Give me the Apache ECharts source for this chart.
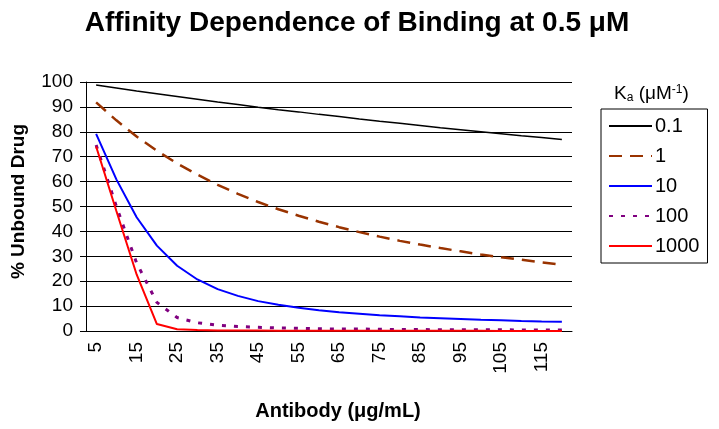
<!DOCTYPE html>
<html>
<head>
<meta charset="utf-8">
<script src="https://cdn.jsdelivr.net/npm/echarts@6/dist/echarts.min.js"></script>
<style>
html,body{margin:0;padding:0;background:#fff;}
#chart{width:719px;height:429px;}
</style>
</head>
<body>
<div id="chart"></div>
<script>
const antibody = ['5','10','15','20','25','30','35','40','45','50','55','60','65','70','75','80','85','90','95','100','105','110','115','120'];
const ka01 = [98.8, 97.6, 96.4, 95.3, 94.2, 93.1, 92.0, 91.0, 89.9, 88.9, 88.0, 87.0, 86.1, 85.1, 84.2, 83.4, 82.5, 81.6, 80.8, 80.0, 79.2, 78.4, 77.7, 76.9];
const ka1 = [91.8, 84.6, 78.1, 72.4, 67.3, 62.8, 58.7, 55.1, 51.8, 48.9, 46.3, 43.9, 41.7, 39.7, 37.9, 36.2, 34.7, 33.3, 32.0, 30.7, 29.6, 28.6, 27.6, 26.6];
const ka10 = [79.2, 60.9, 45.7, 34.3, 26.2, 20.7, 16.8, 14.1, 12.0, 10.5, 9.3, 8.3, 7.5, 6.9, 6.3, 5.9, 5.4, 5.1, 4.8, 4.5, 4.3, 4.0, 3.8, 3.7];
const ka100 = [74.7, 50.0, 27.3, 11.5, 5.4, 3.3, 2.3, 1.8, 1.5, 1.2, 1.1, 0.9, 0.8, 0.8, 0.7, 0.6, 0.6, 0.5, 0.5, 0.5, 0.5, 0.4, 0.4, 0.4];
const ka1000 = [74.1, 48.2, 22.7, 2.8, 0.7, 0.4, 0.2, 0.2, 0.2, 0.1, 0.1, 0.1, 0.1, 0.1, 0.1, 0.1, 0.1, 0.1, 0.1, 0.1, 0.0, 0.0, 0.0, 0.0];
const seriesNames = ['0.1', '1', '10', '100', '1000'];
const yTicks = [0, 10, 20, 30, 40, 50, 60, 70, 80, 90, 100];

const FONT = '"Liberation Sans", Arial, sans-serif';
const chart = echarts.init(document.getElementById('chart'), null, {renderer: 'canvas'});

function mk(name, data, color, width, type) {
  return {
    name: name, type: 'line', data: data, symbol: 'none', smooth: false,
    lineStyle: {color: color, width: width, type: type, cap: 'butt'},
    itemStyle: {color: color},
    emphasis: {disabled: true}, animation: false
  };
}

chart.setOption({
  backgroundColor: '#ffffff',
  animation: false,
  textStyle: {fontFamily: FONT},
  title: {
    text: 'Affinity Dependence of Binding at 0.5 μM',
    left: 352, top: 4, textAlign: 'center',
    textStyle: {fontFamily: FONT, fontWeight: 'bold', fontSize: 28, color: '#000'}
  },
  grid: {left: 86, right: 147, top: 82, bottom: 98, containLabel: false},
  xAxis: {
    type: 'category', data: antibody, boundaryGap: true,
    name: 'Antibody (μg/mL)', nameLocation: 'middle', nameGap: 70,
    nameTextStyle: {fontFamily: FONT, fontWeight: 'bold', fontSize: 20, color: '#000', padding: [0, 0, 0, 18]},
    axisLine: {lineStyle: {color: '#000', width: 1}},
    axisTick: {interval: 0, length: 6, lineStyle: {color: '#000'}},
    axisLabel: {interval: 1, rotate: 90, margin: 11, fontSize: 19, color: '#000', fontFamily: FONT},
    splitLine: {show: false}
  },
  yAxis: {
    type: 'value', min: 0, max: 100, interval: 10,
    name: '% Unbound Drug', nameLocation: 'middle', nameGap: 58, nameRotate: 90,
    nameTextStyle: {fontFamily: FONT, fontWeight: 'bold', fontSize: 19, color: '#000', padding: [0, 0, 0, 10]},
    axisLine: {show: true, lineStyle: {color: '#000', width: 1}},
    axisTick: {show: true, length: 6, lineStyle: {color: '#000'}},
    axisLabel: {margin: 13, fontSize: 19, color: '#000', fontFamily: FONT,
      formatter: function (v) { return yTicks.indexOf(v) >= 0 ? String(v) : ''; }},
    splitLine: {show: true, lineStyle: {color: '#000', width: 1}}
  },
  legend: {
    orient: 'vertical', left: 601, top: 109,
    data: seriesNames,
    itemWidth: 43, itemHeight: 14, itemGap: 10,
    padding: [7, 8, 7, 7],
    borderColor: '#000', borderWidth: 1,
    itemStyle: {opacity: 0, borderWidth: 0},
    textStyle: {fontFamily: FONT, fontSize: 20, color: '#000', padding: [0, 0, 0, -2]},
    selectedMode: false
  },
  graphic: [{
    type: 'text', left: 614, top: 84,
    style: {
      text: '{k|K}{s|a}{k| (μM}{p|-1}{k|)}',
      rich: {
        k: {fontFamily: FONT, fontSize: 19, fill: '#000', color: '#000'},
        s: {fontFamily: FONT, fontSize: 12, fill: '#000', color: '#000', padding: [8, 0, 0, 0], verticalAlign: 'bottom'},
        p: {fontFamily: FONT, fontSize: 12, fill: '#000', color: '#000', padding: [0, 0, 8, 0], verticalAlign: 'top'}
      }
    }
  }],
  series: [
    mk('0.1', ka01, '#000000', 1.5, 'solid'),
    mk('1', ka1, '#993300', 2.5, [13, 8]),
    mk('10', ka10, '#0000ff', 2, 'solid'),
    mk('100', ka100, '#800080', 3, [4, 8]),
    mk('1000', ka1000, '#ff0000', 2, 'solid')
  ]
});
</script>
</body>
</html>
